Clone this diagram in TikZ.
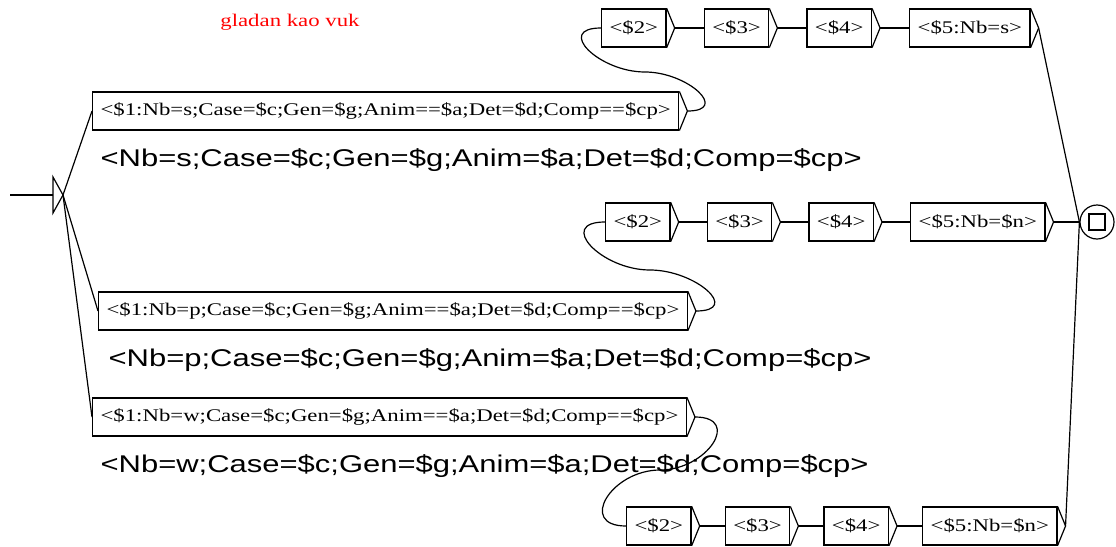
\documentclass[tikz,border=0pt]{standalone}
\usepackage{fontspec}
\newfontfamily\boxfont[FakeStretch=1.28]{Liberation Serif}
\newfontfamily\outfont[FakeStretch=1.28]{Liberation Sans}
\usetikzlibrary{positioning}

\begin{document}
\begin{tikzpicture}[
  x=1pt,y=-1pt,
  line width=1.2pt,
  node distance=37pt,
  box/.style={draw,font=\boxfont\fontsize{17.8}{20}\selectfont,minimum height=38pt,inner xsep=8pt,inner ysep=0pt},
  outtxt/.style={font=\outfont\fontsize{24.2}{28}\selectfont,anchor=west,inner sep=0pt},
  title/.style={font=\boxfont\fontsize{17.8}{20}\selectfont,text=red},
  loop/.style={looseness=1.9}
]
\useasboundingbox (0,0) rectangle (1116,546);

\node[title] (ttl) at (290,22) {gladan kao vuk};

\coordinate (start) at (10,195);
\coordinate (ib) at (53,195);
\coordinate (in) at (63,195);
\draw (53,177) -- (in) -- (53,213) -- cycle;
\draw (start) -- (ib);

\node[box,anchor=west] (bs) at (92,111) {<\$1:Nb=s;Case=\$c;Gen=\$g;Anim==\$a;Det=\$d;Comp==\$cp>};
\node[outtxt] (os) at (100,160) {<Nb=s;Case=\$c;Gen=\$g;Anim=\$a;Det=\$d;Comp=\$cp>};
\node[box,anchor=west] (bp) at (98,311) {<\$1:Nb=p;Case=\$c;Gen=\$g;Anim==\$a;Det=\$d;Comp==\$cp>};
\node[outtxt] (op) at (108,360) {<Nb=p;Case=\$c;Gen=\$g;Anim=\$a;Det=\$d;Comp=\$cp>};
\node[box,anchor=west] (bw) at (92,417) {<\$1:Nb=w;Case=\$c;Gen=\$g;Anim==\$a;Det=\$d;Comp==\$cp>};
\node[outtxt] (ow) at (100,466) {<Nb=w;Case=\$c;Gen=\$g;Anim=\$a;Det=\$d;Comp=\$cp>};

\node[box,anchor=west] (s2) at (601,28) {<\$2>};
\node[box,right=of s2] (s3) {<\$3>};
\node[box,right=of s3] (s4) {<\$4>};
\node[box,right=of s4] (s5) {<\$5:Nb=s>};

\node[box,anchor=west] (p2) at (605,222) {<\$2>};
\node[box,right=36pt of p2] (p3) {<\$3>};
\node[box,right=36pt of p3] (p4) {<\$4>};
\node[box,right=36pt of p4] (p5) {<\$5:Nb=\$n>};

\node[box,anchor=west] (w2) at (626,526) {<\$2>};
\node[box,right=33pt of w2] (w3) {<\$3>};
\node[box,right=33pt of w3] (w4) {<\$4>};
\node[box,right=33pt of w4] (w5) {<\$5:Nb=\$n>};

\foreach \n in {bs,bp,bw,s2,s3,s4,s5,p2,p3,p4,p5,w2,w3,w4,w5}
  \draw (\n.north east) -- ([xshift=8pt]\n.east) coordinate (\n t) -- (\n.south east);

\node[draw,circle,minimum size=34pt,inner sep=0pt] (fin) at (1097,222) {};
\node[draw,minimum size=16pt,inner sep=0pt] (finsq) at (fin) {};

\draw (in) -- (bs.west); \draw (in) -- (bp.west); \draw (in) -- (bw.west);

\coordinate (sm) at (645,72);
\coordinate (pm) at (650,270);
\coordinate (wm) at (660,470);
\draw (bst) to[out=0,in=0,loop] (sm) to[out=180,in=180,loop] (s2.west);
\draw (bpt) to[out=0,in=0,loop] (pm) to[out=180,in=180,loop] (p2.west);
\draw (bwt) to[out=0,in=0,loop] (wm) to[out=180,in=180,loop] (w2.west);

\draw (s2t) -- (s3); \draw (s3t) -- (s4); \draw (s4t) -- (s5);
\draw (p2t) -- (p3); \draw (p3t) -- (p4); \draw (p4t) -- (p5);
\draw (w2t) -- (w3); \draw (w3t) -- (w4); \draw (w4t) -- (w5);

\draw (s5t) -- (fin.west); \draw (p5t) -- (fin.west); \draw (w5t) -- (fin.west);
\end{tikzpicture}
\end{document}
